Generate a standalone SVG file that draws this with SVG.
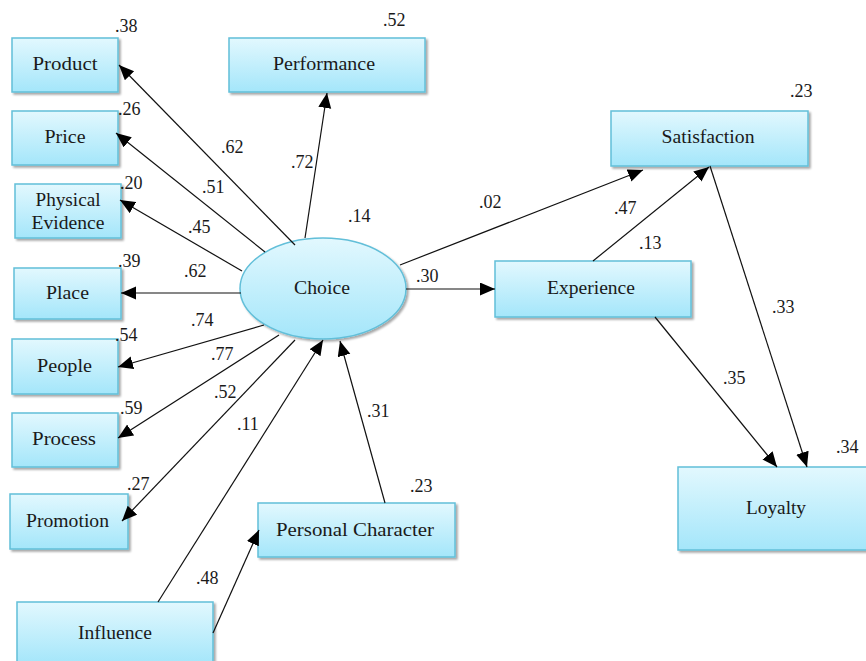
<svg xmlns="http://www.w3.org/2000/svg" width="866" height="661" viewBox="0 0 866 661">
  <defs>
    <linearGradient id="fill" x1="0" y1="0" x2="0" y2="1">
      <stop offset="0" stop-color="#e2f8fe"/>
      <stop offset="1" stop-color="#a4e6fa"/>
    </linearGradient>
    <filter id="shadow" x="-10%" y="-10%" width="125%" height="130%">
      <feGaussianBlur in="SourceAlpha" stdDeviation="1.2"/>
      <feOffset dx="1.5" dy="2" result="b"/>
      <feComponentTransfer><feFuncA type="linear" slope="0.35"/></feComponentTransfer>
      <feMerge><feMergeNode/><feMergeNode in="SourceGraphic"/></feMerge>
    </filter>
    <marker id="arrow" markerUnits="userSpaceOnUse" markerWidth="16" markerHeight="14" refX="15" refY="6.5" orient="auto">
      <path d="M0,0 L15,6.5 L0,13 z" fill="#000"/>
    </marker>
  </defs>
  <style>
    .box { fill: url(#fill); stroke: #62bfd9; stroke-width: 1.5; filter: url(#shadow); }
    .lbl { font-family: "Liberation Serif", "Times New Roman", serif; font-size: 18px; fill: #1a1a1a; text-anchor: middle; }
    .num { font-family: "Liberation Serif", "Times New Roman", serif; font-size: 18px; fill: #1a1a1a; }
    .edge { stroke: #111; stroke-width: 1.2; fill: none; marker-end: url(#arrow); }
  </style>
  <rect width="866" height="661" fill="#fff"/>

  <g id="product"><rect class="box" x="12" y="38" width="106" height="54"/><text class="lbl" x="65" y="70" textLength="65" lengthAdjust="spacingAndGlyphs">Product</text></g>
  <g id="performance"><rect class="box" x="229" y="38" width="196" height="54"/><text class="lbl" x="324" y="70" textLength="102" lengthAdjust="spacingAndGlyphs">Performance</text></g>
  <g id="price"><rect class="box" x="12" y="111" width="106" height="54"/><text class="lbl" x="65" y="143" textLength="41" lengthAdjust="spacingAndGlyphs">Price</text></g>
  <g id="physical-evidence"><rect class="box" x="15" y="184" width="106" height="54"/><text class="lbl" x="68" y="206" textLength="65" lengthAdjust="spacingAndGlyphs">Physical</text><text class="lbl" x="68" y="229" textLength="73" lengthAdjust="spacingAndGlyphs">Evidence</text></g>
  <g id="place"><rect class="box" x="14" y="268" width="107" height="51"/><text class="lbl" x="67.5" y="299" textLength="43" lengthAdjust="spacingAndGlyphs">Place</text></g>
  <g id="people"><rect class="box" x="12" y="339" width="106" height="55"/><text class="lbl" x="64.5" y="372" textLength="55" lengthAdjust="spacingAndGlyphs">People</text></g>
  <g id="process"><rect class="box" x="12" y="413" width="106" height="54"/><text class="lbl" x="64" y="445" textLength="64" lengthAdjust="spacingAndGlyphs">Process</text></g>
  <g id="promotion"><rect class="box" x="10" y="494" width="118" height="55"/><text class="lbl" x="67.5" y="527" textLength="83" lengthAdjust="spacingAndGlyphs">Promotion</text></g>
  <g id="personal-character"><rect class="box" x="258" y="503" width="197" height="54"/><text class="lbl" x="355" y="536" textLength="158" lengthAdjust="spacingAndGlyphs">Personal  Character</text></g>
  <g id="influence"><rect class="box" x="17" y="602" width="196" height="62"/><text class="lbl" x="115" y="639" textLength="74" lengthAdjust="spacingAndGlyphs">Influence</text></g>
  <g id="satisfaction"><rect class="box" x="611" y="111" width="197" height="55"/><text class="lbl" x="708" y="143" textLength="93" lengthAdjust="spacingAndGlyphs">Satisfaction</text></g>
  <g id="experience"><rect class="box" x="495" y="261" width="196" height="56"/><text class="lbl" x="591" y="294" textLength="88" lengthAdjust="spacingAndGlyphs">Experience</text></g>
  <g id="loyalty"><rect class="box" x="678" y="467" width="195" height="83"/><text class="lbl" x="776" y="514" textLength="60" lengthAdjust="spacingAndGlyphs">Loyalty</text></g>
  <g id="choice"><ellipse class="box" cx="323" cy="288.5" rx="83" ry="50.5"/><text class="lbl" x="322" y="294" textLength="56" lengthAdjust="spacingAndGlyphs">Choice</text></g>

  <g id="connectors">
    <line class="edge" x1="295" y1="245" x2="119" y2="65"/>
    <line class="edge" x1="305" y1="238" x2="327" y2="93"/>
    <line class="edge" x1="265" y1="252" x2="116" y2="133"/>
    <line class="edge" x1="242" y1="271" x2="120" y2="200"/>
    <line class="edge" x1="241" y1="293" x2="121" y2="293"/>
    <line class="edge" x1="264" y1="325" x2="118" y2="367"/>
    <line class="edge" x1="279" y1="335" x2="118" y2="438"/>
    <line class="edge" x1="295" y1="340" x2="122" y2="521"/>
    <line class="edge" x1="158" y1="602" x2="323" y2="340"/>
    <line class="edge" x1="385" y1="503" x2="340" y2="341"/>
    <line class="edge" x1="213" y1="633" x2="259" y2="530"/>
    <line class="edge" x1="406" y1="289" x2="495" y2="289"/>
    <line class="edge" x1="400" y1="265" x2="643" y2="170"/>
    <line class="edge" x1="593" y1="261" x2="709" y2="167"/>
    <line class="edge" x1="710" y1="166" x2="807" y2="467"/>
    <line class="edge" x1="655" y1="317" x2="777" y2="467"/>
  </g>

  <g id="coefficients">
    <text class="num" x="115" y="32">.38</text>
    <text class="num" x="383" y="26">.52</text>
    <text class="num" x="221" y="153">.62</text>
    <text class="num" x="291" y="168">.72</text>
    <text class="num" x="118" y="115">.26</text>
    <text class="num" x="202" y="193">.51</text>
    <text class="num" x="120" y="189">.20</text>
    <text class="num" x="188" y="233">.45</text>
    <text class="num" x="348" y="222">.14</text>
    <text class="num" x="118" y="267">.39</text>
    <text class="num" x="184" y="277">.62</text>
    <text class="num" x="191" y="326">.74</text>
    <text class="num" x="115" y="341">.54</text>
    <text class="num" x="211" y="360">.77</text>
    <text class="num" x="214" y="398">.52</text>
    <text class="num" x="120" y="414">.59</text>
    <text class="num" x="237" y="430">.11</text>
    <text class="num" x="367" y="417">.31</text>
    <text class="num" x="127" y="490">.27</text>
    <text class="num" x="410" y="492">.23</text>
    <text class="num" x="196" y="584">.48</text>
    <text class="num" x="416" y="282">.30</text>
    <text class="num" x="479" y="208">.02</text>
    <text class="num" x="614" y="214">.47</text>
    <text class="num" x="639" y="249">.13</text>
    <text class="num" x="790" y="97">.23</text>
    <text class="num" x="772" y="313">.33</text>
    <text class="num" x="723" y="384">.35</text>
    <text class="num" x="836" y="453">.34</text>
  </g>
</svg>
